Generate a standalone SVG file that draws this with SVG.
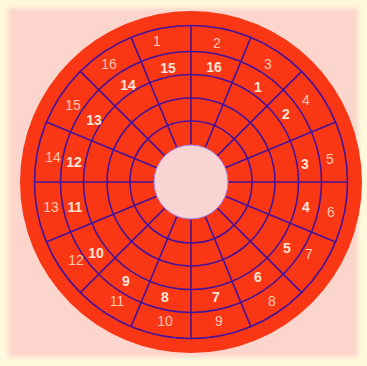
<svg xmlns="http://www.w3.org/2000/svg" xmlns:xlink="http://www.w3.org/1999/xlink" width="367" height="366" viewBox="0 0 367 366">
  <defs>
    <filter id="soft" x="-5%" y="-5%" width="110%" height="110%">
      <feGaussianBlur stdDeviation="2"/>
    </filter>
    <line id="spoke" x1="228" y1="182" x2="347.5" y2="182"/>
  </defs>
  <style>
    .grid { fill: none; stroke: #44139a; stroke-width: 1.6; }
    .outer { font-family: "Liberation Sans", Arial, sans-serif; font-size: 14px; fill: #ffc6b0; text-anchor: middle; }
    .inner { font-family: "Liberation Sans", Arial, sans-serif; font-size: 14px; font-weight: bold; fill: #ffe4d4; text-anchor: middle; }
  </style>

  <rect x="0" y="0" width="367" height="366" fill="#fff8dc"/>
  <rect x="8" y="8" width="350" height="349" fill="#fcd5cd" filter="url(#soft)"/>

  <g id="disk">
    <circle cx="191" cy="182" r="171" fill="#fa3714"/>
  </g>

  <g id="tracks" class="grid">
    <circle cx="191" cy="182" r="61"/>
    <circle cx="191" cy="182" r="84"/>
    <circle cx="191" cy="182" r="107.5"/>
    <circle cx="191" cy="182" r="130.5"/>
    <circle cx="191" cy="182" r="156.5"/>
  </g>

  <g id="connectors" class="grid">
    <use xlink:href="#spoke"/>
    <use xlink:href="#spoke" transform="rotate(22.5 191 182)"/>
    <use xlink:href="#spoke" transform="rotate(45 191 182)"/>
    <use xlink:href="#spoke" transform="rotate(67.5 191 182)"/>
    <use xlink:href="#spoke" transform="rotate(90 191 182)"/>
    <use xlink:href="#spoke" transform="rotate(112.5 191 182)"/>
    <use xlink:href="#spoke" transform="rotate(135 191 182)"/>
    <use xlink:href="#spoke" transform="rotate(157.5 191 182)"/>
    <use xlink:href="#spoke" transform="rotate(180 191 182)"/>
    <use xlink:href="#spoke" transform="rotate(202.5 191 182)"/>
    <use xlink:href="#spoke" transform="rotate(225 191 182)"/>
    <use xlink:href="#spoke" transform="rotate(247.5 191 182)"/>
    <use xlink:href="#spoke" transform="rotate(270 191 182)"/>
    <use xlink:href="#spoke" transform="rotate(292.5 191 182)"/>
    <use xlink:href="#spoke" transform="rotate(315 191 182)"/>
    <use xlink:href="#spoke" transform="rotate(337.5 191 182)"/>
  </g>

  <g id="hole">
    <circle cx="191" cy="182" r="37" fill="#f9d4d2" stroke="#a77ee0" stroke-width="1"/>
  </g>

  <g id="outer-track-labels" class="outer">
    <text x="157" y="46">1</text>
    <text x="217" y="48">2</text>
    <text x="268" y="69">3</text>
    <text x="306" y="105">4</text>
    <text x="330" y="164">5</text>
    <text x="331" y="217">6</text>
    <text x="309" y="259">7</text>
    <text x="272" y="306">8</text>
    <text x="219" y="326">9</text>
    <text x="165" y="326">10</text>
    <text x="117" y="306">11</text>
    <text x="76" y="265">12</text>
    <text x="51" y="212">13</text>
    <text x="53" y="162">14</text>
    <text x="73" y="110">15</text>
    <text x="109" y="69">16</text>
  </g>

  <g id="second-track-labels" class="inner">
    <text x="168" y="73">15</text>
    <text x="214" y="72">16</text>
    <text x="258" y="92">1</text>
    <text x="286" y="119">2</text>
    <text x="305" y="169">3</text>
    <text x="306" y="212">4</text>
    <text x="287" y="253">5</text>
    <text x="258" y="282">6</text>
    <text x="216" y="302">7</text>
    <text x="165" y="302">8</text>
    <text x="126" y="286">9</text>
    <text x="96" y="258">10</text>
    <text x="75" y="212">11</text>
    <text x="74" y="167">12</text>
    <text x="94" y="125">13</text>
    <text x="128" y="90">14</text>
  </g>
</svg>
